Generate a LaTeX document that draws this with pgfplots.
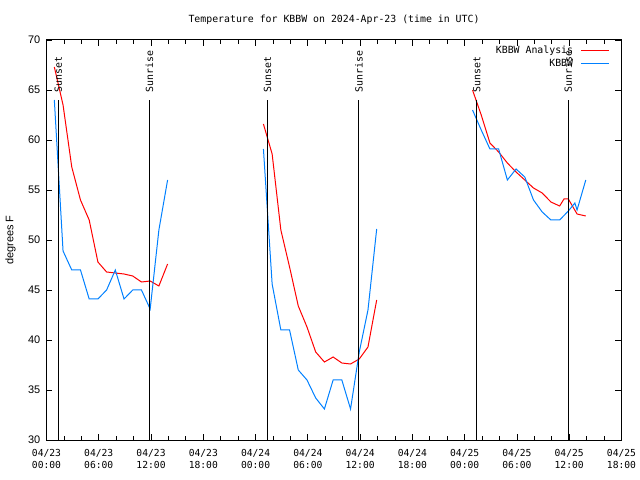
\documentclass[border=0pt]{standalone}
\usepackage{fontspec}
\usepackage{pgfplots}
\pgfplotsset{compat=1.18}
\newfontfamily\mono{DejaVu Sans Mono}
\newfontfamily\sansf{Liberation Sans}
\definecolor{gred}{RGB}{255,0,0}
\definecolor{gblue}{RGB}{0,128,255}
\begin{document}
\begin{tikzpicture}
\path[use as bounding box] (-46.5bp,-40bp) rectangle (593.5bp,440bp);
\begin{axis}[
  at={(0,0)}, anchor=south west,
  scale only axis, width=575bp, height=400bp,
  xmin=0, xmax=66, ymin=30, ymax=70,
  clip=false,
  axis line style={line width=1bp},
  xtick={0,6,...,66},
  minor x tick num=2,
  xticklabels={04/23\\00:00,04/23\\06:00,04/23\\12:00,04/23\\18:00,04/24\\00:00,04/24\\06:00,04/24\\12:00,04/24\\18:00,04/25\\00:00,04/25\\06:00,04/25\\12:00,04/25\\18:00},
  ytick={30,35,...,70},
  tick align=inside,
  major tick length=6bp, minor tick length=3.5bp,
  tick style={black, line width=0.8bp},
  xticklabel style={align=center, font=\mono\fontsize{9.7}{11.7}\selectfont, inner sep=0pt, yshift=-9bp},
  yticklabel style={font=\sansf\fontsize{11}{11}\selectfont, inner sep=0pt, xshift=-6bp},
  /pgf/number format/assume math mode=true,
  legend style={draw=none, fill=none, at={(rel axis cs:1,1)}, anchor=north east,
    xshift=-11.5bp, yshift=-6bp, font=\mono\fontsize{9.9}{10}\selectfont,
    inner sep=0pt, row sep=4bp, column sep=7.7bp,
    nodes={inner sep=0pt, text height=7bp, text depth=2bp}},
  legend cell align=right,
  legend plot pos=right,
  legend image code/.code={\draw[#1] (0bp,0bp) -- (28bp,0bp);},
]
% Analysis (red), segment 1
\addplot[gred, line width=1bp] coordinates {
(0.9,67.3)(1.9,63.5)(2.9,57.3)(3.9,54.0)(4.9,52.0)(5.9,47.8)(6.9,46.8)(7.9,46.7)(8.9,46.6)(9.9,46.4)(10.9,45.8)(11.9,45.9)(12.9,45.4)(13.9,47.6)};
\addlegendentry{KBBW Analysis}
% Observations (blue), segment 1
\addplot[gblue, line width=1bp] coordinates {
(0.9,64.0)(1.9,48.9)(2.9,47.0)(3.9,47.0)(4.9,44.1)(5.9,44.1)(6.9,45.0)(7.9,47.0)(8.9,44.1)(9.9,45.0)(10.9,45.0)(11.9,43.1)(12.9,51.0)(13.9,56.0)};
\addlegendentry{KBBW}
% segment 2
\addplot[gred, line width=1bp, forget plot] coordinates {
(24.9,61.6)(25.9,58.6)(26.9,51.0)(27.9,47.3)(28.9,43.4)(29.9,41.3)(30.9,38.8)(31.9,37.8)(32.9,38.3)(33.9,37.7)(34.9,37.6)(35.9,38.1)(36.9,39.3)(37.9,44.0)};
\addplot[gblue, line width=1bp, forget plot] coordinates {
(24.9,59.1)(25.9,45.6)(26.9,41.0)(27.9,41.0)(28.9,37.0)(29.9,36.0)(30.9,34.2)(31.9,33.1)(32.9,36.0)(33.9,36.0)(34.9,33.1)(35.9,38.8)(36.9,43.0)(37.9,51.1)};
% segment 3
\addplot[gred, line width=1bp, forget plot] coordinates {
(48.9,65.0)(49.9,62.5)(50.9,59.7)(51.9,58.8)(52.9,57.7)(53.9,56.8)(54.9,56.0)(55.9,55.2)(56.9,54.7)(57.9,53.8)(58.9,53.4)(59.4,54.1)(59.9,54.1)(60.9,52.6)(61.9,52.4)};
\addplot[gblue, line width=1bp, forget plot] coordinates {
(48.9,63.0)(49.9,61.0)(50.9,59.1)(51.9,59.1)(52.9,56.0)(53.9,57.1)(54.9,56.3)(55.9,54.0)(56.9,52.8)(57.9,52.0)(58.9,52.0)(59.9,52.9)(60.65,53.7)(60.9,53.0)(61.9,56.0)};
% sunrise / sunset lines
\addplot[black, line width=1.2bp, forget plot] coordinates {(1.36,30)(1.36,64)};
\addplot[black, line width=1.2bp, forget plot] coordinates {(11.82,30)(11.82,64)};
\addplot[black, line width=1.2bp, forget plot] coordinates {(25.38,30)(25.38,64)};
\addplot[black, line width=1.2bp, forget plot] coordinates {(35.85,30)(35.85,64)};
\addplot[black, line width=1.2bp, forget plot] coordinates {(49.38,30)(49.38,64)};
\addplot[black, line width=1.2bp, forget plot] coordinates {(59.88,30)(59.88,64)};
\node[rotate=90, anchor=west, inner sep=0pt, font=\mono\fontsize{9.9}{10}\selectfont] at (axis cs:1.36,64.75) {Sunset};
\node[rotate=90, anchor=west, inner sep=0pt, font=\mono\fontsize{9.9}{10}\selectfont] at (axis cs:11.82,64.75) {Sunrise};
\node[rotate=90, anchor=west, inner sep=0pt, font=\mono\fontsize{9.9}{10}\selectfont] at (axis cs:25.38,64.75) {Sunset};
\node[rotate=90, anchor=west, inner sep=0pt, font=\mono\fontsize{9.9}{10}\selectfont] at (axis cs:35.85,64.75) {Sunrise};
\node[rotate=90, anchor=west, inner sep=0pt, font=\mono\fontsize{9.9}{10}\selectfont] at (axis cs:49.38,64.75) {Sunset};
\node[rotate=90, anchor=west, inner sep=0pt, font=\mono\fontsize{9.9}{10}\selectfont] at (axis cs:59.88,64.75) {Sunrise};
% title and y label
\node[font=\mono\fontsize{9.9}{10}\selectfont] at (rel axis cs:0.5,1) [yshift=20bp] {Temperature for KBBW on 2024-Apr-23 (time in UTC)};
\node[xshift=-36bp, rotate=90, font=\sansf\fontsize{11}{11}\selectfont] at (rel axis cs:0,0.5) {degrees F};
\end{axis}
\end{tikzpicture}
\end{document}
